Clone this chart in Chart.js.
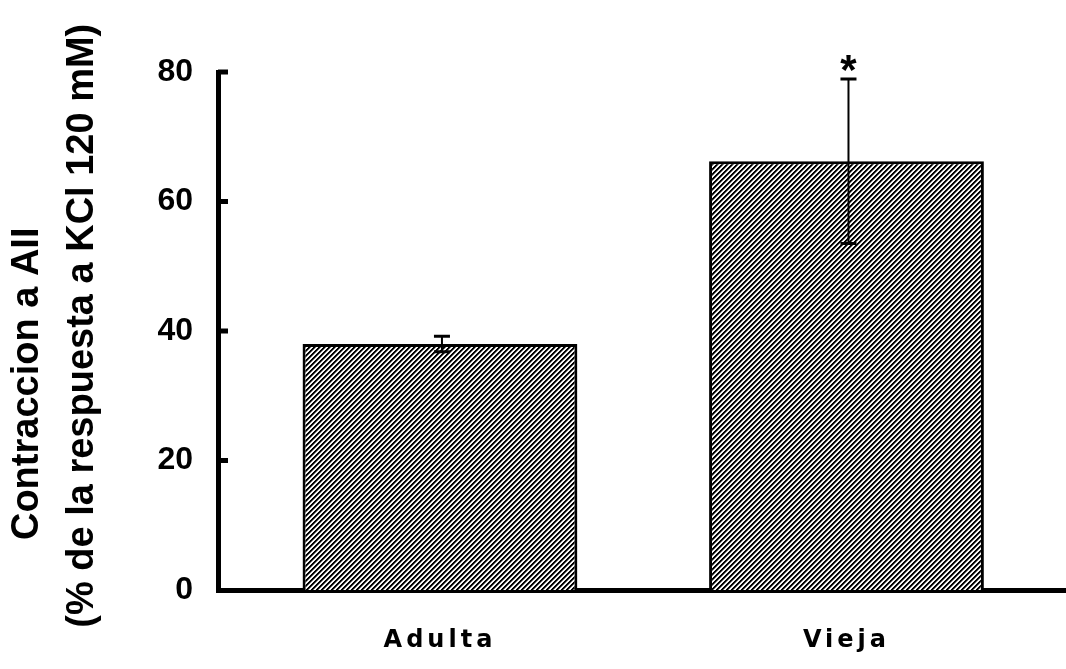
<!DOCTYPE html>
<html>
<head>
<meta charset="utf-8">
<script src="https://cdn.jsdelivr.net/npm/chart.js@4/dist/chart.umd.min.js"></script>
<style>
  html, body { margin: 0; padding: 0; background: #fff; }
  #wrap { width: 1066px; height: 669px; position: relative; }
</style>
</head>
<body>
<div id="wrap"><canvas id="c"></canvas></div>
<script>
// ---- data ----
const categories = ['Adulta', 'Vieja'];
const means = [38.0, 66.2];
const errors = [1.2, 12.7];
const significance = ['', '*'];
const yTicks = [0, 20, 40, 60, 80];
const yTitle = ['Contraccion a AII' + '\u00A0'.repeat(10), '\u00A0(% de la respuesta a KCl 120 mM)'];

// hatch pattern (diagonal "/" stripes)
function makeHatch() {
  const n = 5;
  const cv = document.createElement('canvas');
  cv.width = n; cv.height = n;
  const g = cv.getContext('2d');
  const img = g.createImageData(n, n);
  const shades = [0, 0, 110, 255, 235];
  for (let y = 0; y < n; y++) {
    for (let x = 0; x < n; x++) {
      const v = shades[(x + y) % n];
      const k = (y * n + x) * 4;
      img.data[k] = v; img.data[k + 1] = v; img.data[k + 2] = v; img.data[k + 3] = 255;
    }
  }
  g.putImageData(img, 0, 0);
  return g.createPattern(cv, 'repeat');
}

const FONT = '"Liberation Sans", Arial, Helvetica, sans-serif';
const XFONT = '"DejaVu Sans", "Liberation Sans", sans-serif';

const extrasPlugin = {
  id: 'extras',
  beforeDraw(chart) {
    const s = chart.scales.x;
    if (!s._spaced) {
      const orig = s.drawLabels;
      s.drawLabels = function (area) {
        const c = this.ctx;
        c.save();
        c.letterSpacing = '4px';
        orig.call(this, area);
        c.restore();
      };
      s._spaced = true;
    }
  },
  afterDatasetsDraw(chart) {
    const ctx = chart.ctx;
    const ys = chart.scales.y;
    const area = chart.chartArea;
    const meta = chart.getDatasetMeta(0);
    ctx.save();
    // inward tick marks on y axis
    ctx.strokeStyle = '#000';
    ctx.lineWidth = 5;
    ys.ticks.forEach(t => {
      if (t.value === 0) return;
      const y = ys.getPixelForValue(t.value);
      ctx.beginPath();
      ctx.moveTo(area.left, y);
      ctx.lineTo(area.left + 10, y);
      ctx.stroke();
    });
    // error bars + significance marks
    meta.data.forEach((bar, i) => {
      const x = bar.x + 2;
      const yTop = ys.getPixelForValue(means[i] + errors[i]);
      const yBot = ys.getPixelForValue(means[i] - errors[i]);
      ctx.strokeStyle = '#000';
      ctx.lineWidth = 2;
      ctx.beginPath();
      ctx.moveTo(x, yTop); ctx.lineTo(x, yBot);
      ctx.stroke();
      ctx.lineWidth = 3;
      ctx.beginPath();
      ctx.moveTo(x - 8, yTop); ctx.lineTo(x + 8, yTop);
      ctx.moveTo(x - 8, yBot); ctx.lineTo(x + 8, yBot);
      ctx.stroke();
      if (significance[i]) {
        ctx.fillStyle = '#000';
        ctx.font = 'bold 42px ' + FONT;
        ctx.textAlign = 'center';
        ctx.textBaseline = 'alphabetic';
        ctx.fillText(significance[i], x, yTop + 5);
      }
    });
    ctx.restore();
  }
};

const ctx = document.getElementById('c').getContext('2d');
const hatch = makeHatch();

new Chart(ctx, {
  type: 'bar',
  data: {
    datasets: [{
      data: means.map((v, i) => ({ x: i, y: v })),
      backgroundColor: hatch,
      borderColor: '#000',
      borderWidth: 3,
      borderSkipped: 'bottom',
      categoryPercentage: 1,
      barPercentage: 0.676
    }]
  },
  options: {
    responsive: true,
    maintainAspectRatio: false,
    animation: false,
    devicePixelRatio: 1,
    layout: { padding: { top: 72, left: 0, right: 0, bottom: 0 } },
    plugins: { legend: { display: false }, tooltip: { enabled: false } },
    scales: {
      x: {
        type: 'linear',
        offset: false,
        min: -0.546,
        max: 1.54,
        afterBuildTicks: (scale) => { scale.ticks = categories.map((c, i) => ({ value: i })); },
        afterFit: (scale) => { scale.height = 79; },
        grid: { display: false, drawTicks: false, offset: false },
        border: { display: true, color: '#000', width: 5 },
        ticks: {
          padding: 36,
          color: '#000',
          font: { family: XFONT, size: 24, weight: 'bold' },
          callback: (v) => categories[Math.round(v)] ?? ''
        }
      },
      y: {
        min: 0,
        max: 80,
        afterBuildTicks: (scale) => { scale.ticks = yTicks.map(v => ({ value: v })); },
        afterFit: (scale) => { scale.width = 218; },
        grid: { display: false, drawTicks: false },
        border: { display: true, color: '#000', width: 5 },
        ticks: {
          padding: 25,
          color: '#000',
          font: { family: FONT, size: 32, weight: 'bold' }
        },
        title: {
          display: true,
          text: yTitle,
          color: '#000',
          padding: { top: 0, bottom: 0 },
          font: { family: FONT, size: 38, weight: 'bold', lineHeight: 1.45 }
        }
      }
    }
  },
  plugins: [extrasPlugin]
});
</script>
</body>
</html>
